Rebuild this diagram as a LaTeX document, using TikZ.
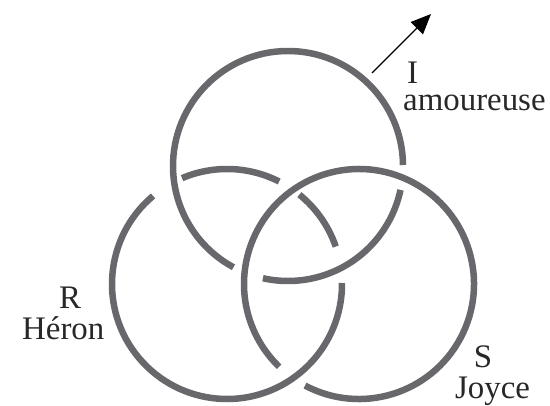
\documentclass[tikz,border=0pt]{standalone}
\usepackage{fontspec}
\setmainfont{Liberation Serif}
\usetikzlibrary{arrows.meta}
\definecolor{ringgray}{RGB}{104,104,108}
\definecolor{textgray}{RGB}{40,40,40}

\tikzstyle{ring} = [draw=ringgray, line width=6.5bp]
\tikzstyle{word} = [inner sep=0pt, text=textgray, font=\fontsize{33}{33}\selectfont]
\tikzstyle{pointer} = [draw=black, line width=1.4bp, -{Triangle[length=20bp,width=17bp]}]

\begin{document}
\begin{tikzpicture}[x=1bp, y=1bp]
\useasboundingbox (0,0) rectangle (550,405);
\coordinate (I) at (288,239);
\coordinate (R) at (227,121);
\coordinate (S) at (359,121);
% the three rings, broken where another one passes over
\foreach \c/\a/\b in {I/0.5/241.7, I/257.4/348, R/19/51, R/63/113, R/130/360.5, S/242/586}
  \draw[ring] (\c) ++(\a:115) arc[start angle=\a, end angle=\b, radius=115];
% arrow leaving I
\coordinate (foot) at (372,332);
\coordinate (tip) at (431,391);
\draw[pointer] (foot) -- (tip);
% names
\node[word, anchor=base west] (Iname) at (407,322) {I};
\node[word, anchor=base west] (amoureuse) at (403,295) {amoureuse};
\node[word, anchor=base] (Rname) at (70,97) {R};
\node[word, anchor=base west] (heron) at (22,66) {Héron};
\node[word, anchor=base] (Sname) at (483,38) {S};
\node[word, anchor=base west] (joyce) at (455,7) {Joyce};
\end{tikzpicture}
\end{document}
